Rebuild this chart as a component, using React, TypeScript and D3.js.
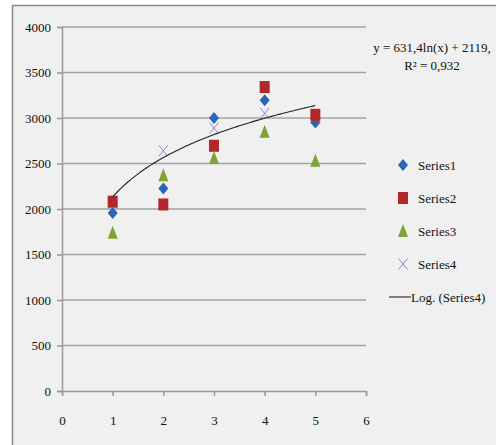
import React, { useEffect, useRef } from 'react';
import * as d3 from 'd3';

// values
const xValues = [1, 2, 3, 4, 5];
const series1 = [1955, 2225, 3000, 3195, 2950];
const series2 = [2080, 2050, 2695, 3340, 3035];
const series3 = [1740, 2370, 2560, 2850, 2530];
const series4 = [2060, 2640, 2890, 3050, 3010];
const seriesNames = ['Series1', 'Series2', 'Series3', 'Series4'];
const yTicks = [0, 500, 1000, 1500, 2000, 2500, 3000, 3500, 4000];
const xTicks = [0, 1, 2, 3, 4, 5, 6];
const trendName = 'Log. (Series4)';
const eqLine1 = 'y = 631,4ln(x) + 2119,';
const eqLine2 = 'R² = 0,932';

const colors = ['#2c66b2', '#b3262a', '#7fa334', '#9487bf'];
const FONT = 'Liberation Serif, Times New Roman, serif';

// least squares fit y = a ln(x) + b on Series4
function logFit(xs: number[], ys: number[]) {
  const L = xs.map(Math.log);
  const lm = d3.mean(L)!;
  const ym = d3.mean(ys)!;
  const a = d3.sum(L, (l, i) => (l - lm) * (ys[i] - ym)) / d3.sum(L, l => (l - lm) ** 2);
  return { a, b: ym - a * lm };
}

const App = () => {
  const ref = useRef<SVGSVGElement>(null);

  useEffect(() => {
    const svg = d3.select(ref.current);
    svg.selectAll('*').remove();

    const x = d3.scaleLinear().domain([0, 6]).range([62, 366]);
    const y = d3.scaleLinear().domain([0, 4000]).range([391, 27]);

    svg.append('rect')
      .attr('x', 12.5).attr('y', 5.5).attr('width', 500).attr('height', 460)
      .attr('fill', '#f0f0f0').attr('stroke', '#8a8a8a').attr('stroke-width', 1.5);

    // gridlines
    svg.append('g').selectAll('line')
      .data(yTicks.filter(t => t > 0))
      .join('line')
      .attr('x1', x(0)).attr('x2', x(6))
      .attr('y1', d => y(d)).attr('y2', d => y(d))
      .attr('stroke', '#a3a3a3').attr('stroke-width', 1.5);

    const yAxis = svg.append('g')
      .attr('transform', `translate(${x(0)},0)`)
      .call(d3.axisLeft(y).tickValues(yTicks).tickFormat(d3.format('d'))
        .tickSizeOuter(0).tickSize(5).tickPadding(6));
    const xAxis = svg.append('g')
      .attr('transform', `translate(0,${y(0)})`)
      .call(d3.axisBottom(x).tickValues(xTicks).tickFormat(d3.format('d'))
        .tickSizeOuter(0).tickSize(5).tickPadding(20));
    [yAxis, xAxis].forEach(g => {
      g.attr('font-family', null).attr('font-size', null);
      g.selectAll('path, line').attr('stroke', '#999').attr('stroke-width', 1.5);
      g.selectAll('text').style('font-family', FONT).style('font-size', '13px').attr('fill', '#111');
    });

    const diamond = (cx: number, cy: number) =>
      `M${cx},${cy - 6}L${cx + 5},${cy}L${cx},${cy + 6}L${cx - 5},${cy}Z`;
    const triangle = (cx: number, cy: number) =>
      `M${cx},${cy - 7}L${cx + 5},${cy + 6}L${cx - 5},${cy + 6}Z`;
    const cross = (cx: number, cy: number) =>
      `M${cx - 4.5},${cy - 5.5}L${cx + 4.5},${cy + 5.5}M${cx + 4.5},${cy - 5.5}L${cx - 4.5},${cy + 5.5}`;

    const drawMarker = (g: any, k: number, cx: number, cy: number) => {
      if (k === 0) g.append('path').attr('d', diamond(cx, cy)).attr('fill', colors[0]);
      if (k === 1) g.append('rect').attr('x', cx - 5).attr('y', cy - 6)
        .attr('width', 10).attr('height', 12).attr('fill', colors[1]);
      if (k === 2) g.append('path').attr('d', triangle(cx, cy)).attr('fill', colors[2]);
      if (k === 3) g.append('path').attr('d', cross(cx, cy)).attr('fill', 'none')
        .attr('stroke', colors[3]).attr('stroke-width', 1);
    };

    // Series4 sits under the others, as in the reference
    const marks = svg.append('g');
    const all = [series1, series2, series3, series4];
    [3, 0, 1, 2].forEach(k => {
      all[k].forEach((v, i) => drawMarker(marks, k, x(xValues[i]), y(v)));
    });

    // trend line
    const { a, b } = logFit(xValues, series4);
    const xs = d3.range(1, 5.0001, 0.05);
    const line = d3.line<number>().x(d => x(d)).y(d => y(a * Math.log(d) + b));
    svg.append('path').attr('d', line(xs)).attr('fill', 'none')
      .attr('stroke', '#222').attr('stroke-width', 1.1);

    // equation label
    const eq = svg.append('g').style('font-family', FONT).style('font-size', '13px').attr('fill', '#111')
      .attr('text-anchor', 'middle');
    eq.append('text').attr('x', 432).attr('y', 47).attr('dy', '0.35em').text(eqLine1);
    eq.append('text').attr('x', 432).attr('y', 65).attr('dy', '0.35em').text(eqLine2);

    // legend
    const leg = svg.append('g').style('font-family', FONT).style('font-size', '13px').attr('fill', '#111');
    seriesNames.forEach((n, k) => {
      const cy = 165 + k * 33;
      drawMarker(leg, k, 403, cy);
      leg.append('text').attr('x', 418).attr('y', cy).attr('dy', '0.35em').text(n);
    });
    const ly = 165 + 4 * 33;
    leg.append('line').attr('x1', 389).attr('x2', 411).attr('y1', ly).attr('y2', ly)
      .attr('stroke', '#222').attr('stroke-width', 1.1);
    leg.append('text').attr('x', 411).attr('y', ly).attr('dy', '0.35em').text(trendName);
  }, []);

  return (
    <svg ref={ref} width={496} height={445}
      style={{ position: 'absolute', left: 0, top: 0, background: '#fff' }} />
  );
};

export default App;
